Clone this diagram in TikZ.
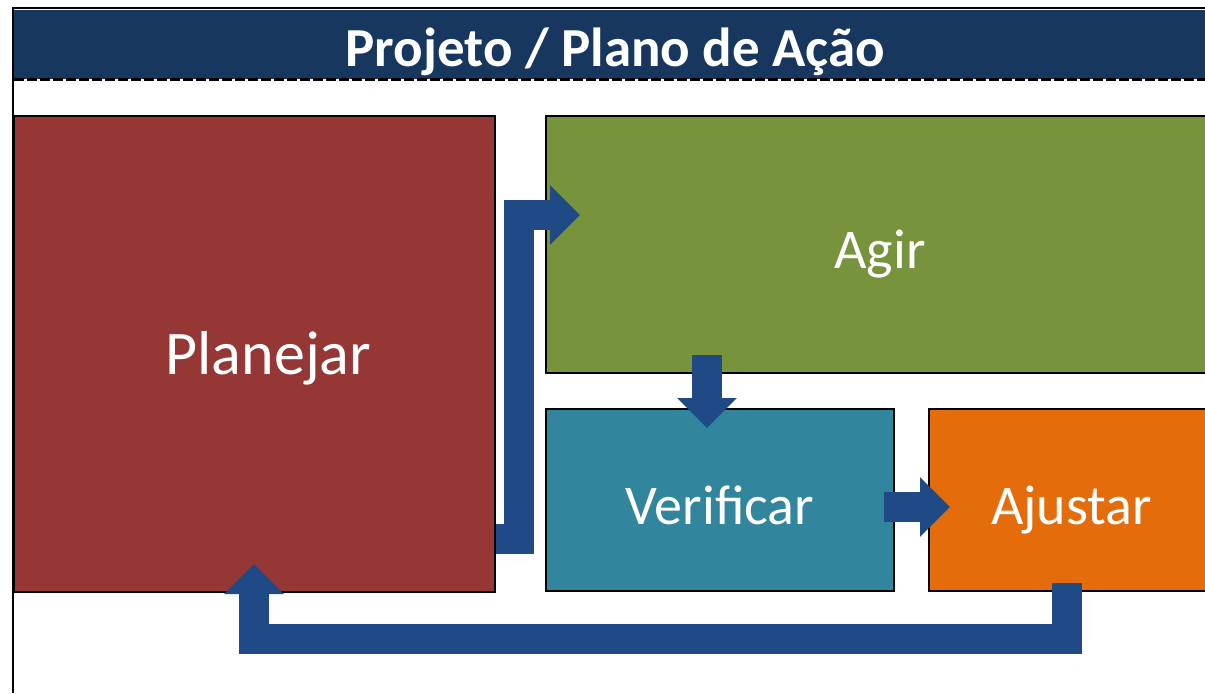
\documentclass[tikz,border=0pt]{standalone}
\usepackage{fontspec}
\setmainfont{Carlito}
\usepackage{tikz}
\usetikzlibrary{positioning,calc,arrows.meta}
\definecolor{headnavy}{HTML}{17375E}
\definecolor{flowblue}{HTML}{1F4A86}
\definecolor{planred}{HTML}{953735}
\definecolor{actgreen}{HTML}{77933C}
\definecolor{checkteal}{HTML}{31859C}
\definecolor{adjustorange}{HTML}{E46C0A}

\begin{document}
\begin{tikzpicture}[
  x=0.5pt, y=-0.5pt,
  stagebox/.style={draw=black, line width=1pt, inner sep=0pt, anchor=north west, text=white, text height=28pt, text depth=4pt, font=\fontsize{28}{33}\selectfont},
  lbl/.style={text=white, inner sep=0pt, text height=28pt, text depth=4pt, font=\fontsize{31}{36}\selectfont},
  header/.style={fill=headnavy, inner sep=0pt, anchor=north west, minimum width=601pt, minimum height=34.5pt, text=white, text height=27pt, text depth=5.5pt, font=\fontsize{27.5}{32}\selectfont\bfseries},
  flow/.style={draw=flowblue, line width=15pt, line join=miter, -{Triangle[length=15pt, width=29pt]}}
]
  \useasboundingbox (0,0) rectangle (1205,693);
  \clip (0,0) rectangle (1205,693);

  \node[header] (title) at (14,10) {Projeto / Plano de Ação};
  \draw[line width=1.5pt, dash pattern=on 5pt off 1.5pt] (title.south west) -- (title.south east);

  \node[stagebox, fill=planred, minimum width=240.5pt, minimum height=238pt,
    label={[lbl, xshift=7pt, yshift=2pt]center:Planejar}] (plan) at (13,115) {};
  \node[stagebox, fill=actgreen, minimum width=334pt, minimum height=128.5pt] (act) at (545,115) {Agir};
  \node[stagebox, fill=checkteal, minimum width=174pt, minimum height=91pt] (check) at (545,408) {Verificar};
  \node[stagebox, fill=adjustorange, minimum width=142.5pt, minimum height=91pt] (adjust) at (928,408) {Ajustar};

  % frame
  \draw[line width=1pt] (13,693) -- (13,8) -- (1205,8);

  \draw[flow] ($(plan.south east)+(0,-54)$) -| ($(act.north west)+(-26,100)$)
    -- ($(act.north west)+(35,100)$);
  \draw[flow] ($(act.south west)+(162,-19)$) -- ($(check.north west)+(162,20)$);
  \draw[flow] ($(check.south east)+(-11,-85)$) -- ($(adjust.south west)+(22,-85)$);
  \draw[flow] ($(adjust.south west)+(139,-9)$) -- ++(0,56)
    -| ($(plan.south west)+(241,-29)$);
\end{tikzpicture}
\end{document}
